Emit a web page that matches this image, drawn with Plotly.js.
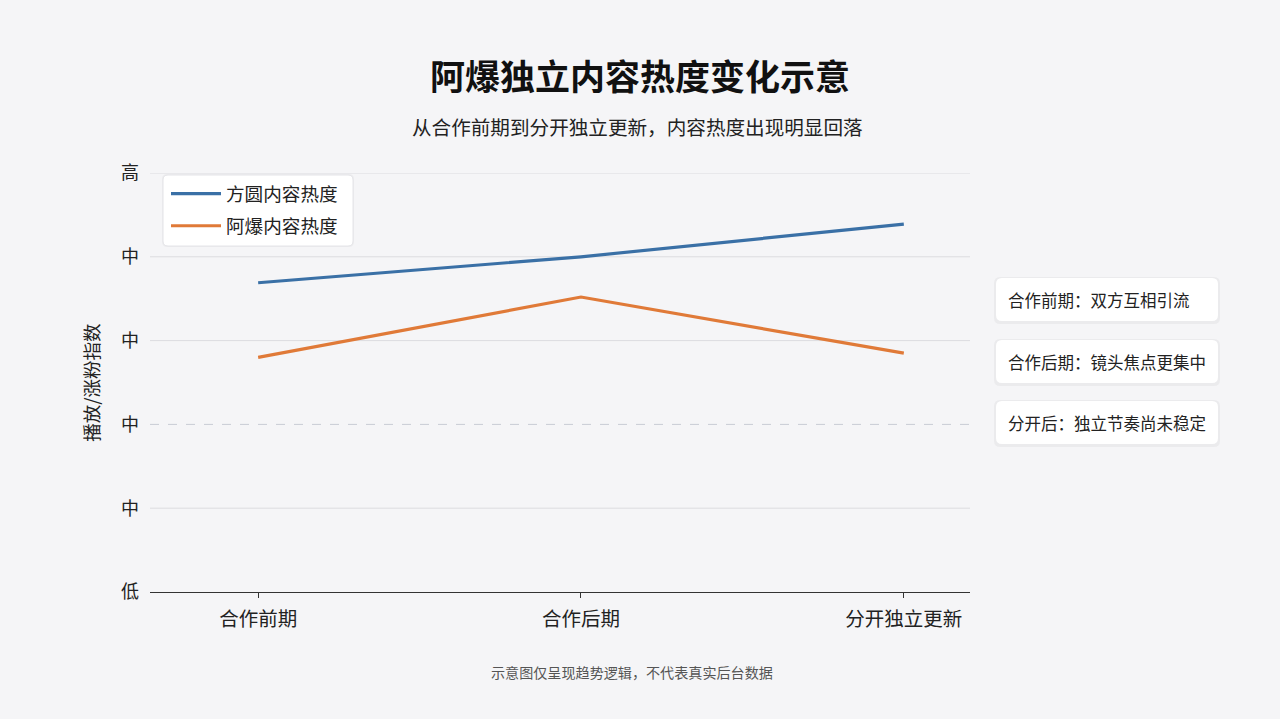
<!DOCTYPE html>
<html>
<head>
<meta charset="utf-8">
<script src="https://cdn.plot.ly/plotly-3.0.1.min.js"></script>
<style>
html,body{margin:0;padding:0;background:#f5f5f7;}
#chart{width:1280px;height:719px;}
</style>
</head>
<body>
<div id="chart"></div>
<script>
const categories = ['合作前期', '合作后期', '分开独立更新'];
const fangyuanValues = [3.69, 4.0, 4.39];
const abaoValues = [2.80, 3.52, 2.85];
const yTickVals = [0, 1, 2, 3, 4, 5];
const yTickText = ['低', '中', '中', '中', '中', '高'];
const noteTexts = ['合作前期：双方互相引流', '合作后期：镜头焦点更集中', '分开后：独立节奏尚未稳定'];

const FONT = '"Noto Sans CJK SC", "Noto Sans", sans-serif';

function roundRect(x0, y0, x1, y1, rx, ry) {
  return `M ${x0+rx},${y0} L ${x1-rx},${y0} Q ${x1},${y0} ${x1},${y0+ry} L ${x1},${y1-ry} Q ${x1},${y1} ${x1-rx},${y1} L ${x0+rx},${y1} Q ${x0},${y1} ${x0},${y1-ry} L ${x0},${y0+ry} Q ${x0},${y0} ${x0+rx},${y0} Z`;
}

const plotL = 150, plotR = 970, plotT = 173, plotB = 592;
const pw = plotR - plotL, ph = plotB - plotT;
const px = v => (v - plotL) / pw;
const py = v => (plotB - v) / ph;

const shapes = [];
// gridlines
yTickVals.slice(1).forEach(v => {
  shapes.push({type:'line', xref:'paper', x0:0, x1:1, yref:'y', y0:v, y1:v,
    line:{color: v === 2 ? '#c9ccd4' : '#dcdcdf', width:1, dash: v === 2 ? 'dash' : 'solid'}, layer:'below'});
});

// legend box
shapes.push({type:'path', xref:'paper', yref:'paper',
  path: roundRect(px(162), py(247), px(354), py(174), 5/pw, 5/ph),
  fillcolor:'rgba(0,0,0,0.03)', line:{width:0}, layer:'above'});
shapes.push({type:'path', xref:'paper', yref:'paper',
  path: roundRect(px(163), py(246), px(353), py(175), 5/pw, 5/ph),
  fillcolor:'#ffffff', line:{color:'#e4e4e8', width:1}, layer:'above'});

const annotations = [];
const boxTops = [278, 340, 401];
boxTops.forEach((t, i) => {
  const b = t + 43;
  shapes.push({type:'path', xref:'paper', yref:'paper',
    path: roundRect(px(994), py(b+3), px(1220), py(t-1), 6/pw, 6/ph),
    fillcolor:'rgba(0,0,0,0.04)', line:{width:0}, layer:'below'});
  shapes.push({type:'path', xref:'paper', yref:'paper',
    path: roundRect(px(996), py(b), px(1218), py(t), 6/pw, 6/ph),
    fillcolor:'#ffffff', line:{width:0}, layer:'below'});
  annotations.push({xref:'paper', yref:'paper', x: px(1006), y: py(t + 21.5), xanchor:'left', yanchor:'middle',
    text: noteTexts[i], showarrow:false, font:{family:FONT, size:16.5, color:'#222'}});
});

annotations.push({xref:'paper', yref:'paper', x: px(632), y: py(672), xanchor:'center', yanchor:'middle',
  text:'示意图仅呈现趋势逻辑，不代表真实后台数据', showarrow:false, font:{family:FONT, size:14.1, color:'#555'}});
annotations.push({xref:'paper', yref:'paper', x: px(637), y: py(126), xanchor:'center', yanchor:'middle',
  text:'从合作前期到分开独立更新，内容热度出现明显回落', showarrow:false, font:{family:FONT, size:19.6, color:'#222'}});

const traces = [
  {x: categories, y: fangyuanValues, type:'scatter', mode:'lines', name:'方圆内容热度',
   legendgroup:'a', line:{color:'#3a70a6', width:3.2}},
  {x: categories, y: abaoValues, type:'scatter', mode:'lines', name:'阿爆内容热度',
   legendgroup:'b', line:{color:'#e07a38', width:3.2}}
];

const layout = {
  width:1280, height:719,
  paper_bgcolor:'#f5f5f7', plot_bgcolor:'#f5f5f7',
  margin:{l:plotL, r:1280-plotR, t:plotT, b:719-plotB, pad:0},
  title:{text:'<b>阿爆独立内容热度变化示意</b>', x:0.5, xanchor:'center', y:1-78/719, yanchor:'middle', yref:'container',
    font:{family:FONT, size:35, color:'#111'}},
  font:{family:FONT, color:'#222'},
  xaxis:{type:'category', range:[-0.335, 2.205], showgrid:false, zeroline:false,
    showline:true, linecolor:'#333', linewidth:1.2, ticks:'outside', ticklen:5, tickcolor:'#333',
    ticklabelstandoff:4,
    tickfont:{family:FONT, size:19.5, color:'#222'}, fixedrange:true},
  yaxis:{range:[0,5], tickvals:yTickVals, ticktext:yTickText, showgrid:false, zeroline:false,
    showline:false, ticks:'', ticklabelstandoff:10,
    tickfont:{family:FONT, size:18, color:'#222'},
    title:{text:'播放/涨粉指数', standoff:16, font:{family:FONT, size:18.5, color:'#222'}}},
  legend:{x:px(166), y:py(175), xanchor:'left', yanchor:'top', bgcolor:'rgba(0,0,0,0)', borderwidth:0,
    font:{family:FONT, size:18.6, color:'#222'}, tracegroupgap:5, itemwidth:50, traceorder:'grouped'},
  shapes: shapes,
  annotations: annotations,
  showlegend:true
};

Plotly.newPlot('chart', traces, layout, {displayModeBar:false, staticPlot:true});
</script>
</body>
</html>
